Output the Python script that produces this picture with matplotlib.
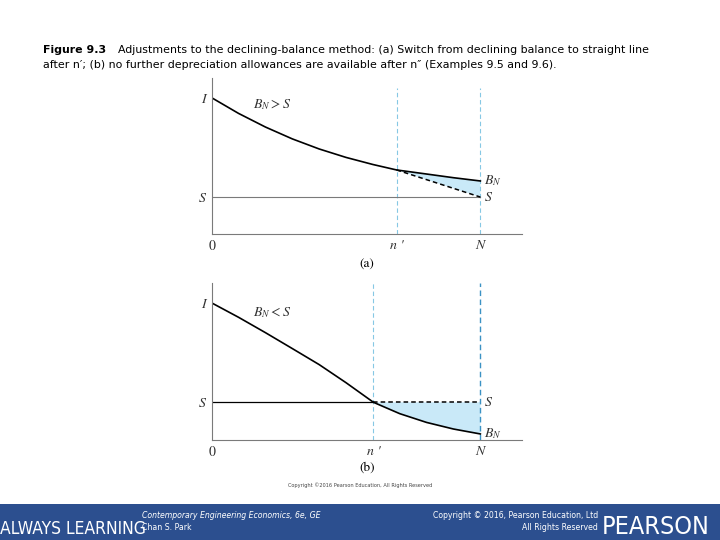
import matplotlib
matplotlib.use("Agg")
import matplotlib.pyplot as plt
from matplotlib.patches import Rectangle

plt.rcParams['mathtext.fontset'] = 'stix'

# --- data (book value as fraction of I, time in units of N/10) ---
N = 10
I_val = 1.0

# (a) B_N > S : switch to straight line after n'
a_nprime = 6.88
a_S = 0.271
a_x = [0, 1, 2, 3, 4, 5, 6, 6.88, 8, 9, 10]
a_bv = [1.0, 0.885, 0.785, 0.698, 0.624, 0.562, 0.510, 0.470, 0.440, 0.413, 0.389]

# (b) B_N < S : no more depreciation after n'
b_nprime = 6.02
b_S = 0.275
b_x = [0, 1, 2, 3, 4, 5, 6.02, 7, 8, 9, 10]
b_bv = [1.0, 0.895, 0.783, 0.667, 0.550, 0.418, 0.275, 0.192, 0.128, 0.080, 0.044]

x_ticks_a = [0, a_nprime, N]
x_ticks_b = [0, b_nprime, N]
x_tick_labels = ['0', "n '", 'N']

light_blue = '#86c8e4'
dark_blue = '#3b92c4'
fill_blue = '#c9e9f8'
axis_gray = '#7a7a7a'

fig = plt.figure(figsize=(7.2, 5.4), dpi=100)
fig.set_facecolor('white')


def setup_axes(ax, xticks, S):
    ax.set_xlim(0, 11.55)
    ax.set_ylim(0, 1.145)
    for s in ['top', 'right']:
        ax.spines[s].set_visible(False)
    for s in ['left', 'bottom']:
        ax.spines[s].set_color(axis_gray)
        ax.spines[s].set_linewidth(0.8)
    ax.set_xticks(xticks, x_tick_labels)
    ax.set_yticks([S, I_val], ['S', 'I'])
    ax.tick_params(length=0, pad=4, labelsize=10, colors='#333333')
    for t in ax.get_xticklabels() + ax.get_yticklabels():
        t.set_fontfamily('STIXGeneral')
        if t.get_text() != '0':
            t.set_fontstyle('italic')


# ---------------- panel (a) ----------------
ax1 = fig.add_axes([0.294, 0.5667, 0.431, 0.2889])
setup_axes(ax1, x_ticks_a, a_S)

ax1.vlines([a_nprime, N], 0, 1.07, colors=light_blue, linestyles=(0, (4, 2.5)), linewidth=0.8)
ax1.plot([0, N], [a_S, a_S], color=axis_gray, linewidth=0.8)

# shaded area between DB curve and straight-line switch
tail_x = [x for x in a_x if x >= a_nprime]
tail_y = [y for x, y in zip(a_x, a_bv) if x >= a_nprime]
ax1.fill(tail_x + [N], tail_y + [a_S], color=fill_blue, linewidth=0)
ax1.plot(a_x, a_bv, color='black', linewidth=1.2)
ax1.plot([a_nprime, N], [tail_y[0], a_S], color='black', linewidth=1.1, linestyle=(0, (3, 2)))

ax1.text(1.55, 0.92, '$B_N > S$', fontsize=10, color='#333333')
ax1.text(N + 0.12, a_bv[-1], '$B_N$', fontsize=10, color='#333333', va='center')
ax1.text(N + 0.12, a_S, '$S$', fontsize=10, color='#333333', va='center')
ax1.text(0.5, -0.2, '(a)', transform=ax1.transAxes, ha='center', va='center',
         fontsize=9.5, family='STIXGeneral')

# ---------------- panel (b) ----------------
ax2 = fig.add_axes([0.294, 0.1852, 0.431, 0.2907])
setup_axes(ax2, x_ticks_b, b_S)

ax2.vlines([b_nprime], 0, 1.145, colors=light_blue, linestyles=(0, (4, 2.5)), linewidth=0.8)
ax2.vlines([N], 0, 1.145, colors=dark_blue, linestyles=(0, (4, 2.5)), linewidth=1.0)

tail_x = [x for x in b_x if x >= b_nprime]
tail_y = [y for x, y in zip(b_x, b_bv) if x >= b_nprime]
ax2.fill(tail_x + [N, b_nprime], tail_y + [b_S, b_S], color=fill_blue, linewidth=0)
ax2.plot([0, b_nprime], [b_S, b_S], color='black', linewidth=0.9)
ax2.plot([b_nprime, N], [b_S, b_S], color='black', linewidth=1.1, linestyle=(0, (3, 2)))
ax2.plot(b_x, b_bv, color='black', linewidth=1.2)

ax2.text(1.55, 0.9, '$B_N < S$', fontsize=10, color='#333333')
ax2.text(N + 0.15, b_S, '$S$', fontsize=10, color='#333333', va='center')
ax2.text(N + 0.12, b_bv[-1], '$B_N$', fontsize=10, color='#333333', va='center')
ax2.text(0.5, -0.18, '(b)', transform=ax2.transAxes, ha='center', va='center',
         fontsize=9.5, family='STIXGeneral')

fig.text(0.5, 1 - 485 / 540, 'Copyright ©2016 Pearson Education, All Rights Reserved',
         ha='center', va='center', fontsize=3.6, color='#444444')

# ---------------- caption ----------------
fig.text(43 / 720, 1 - 50 / 540, 'Figure 9.3', fontsize=7.9, fontweight='bold', va='center')
fig.text(118 / 720, 1 - 50 / 540,
         'Adjustments to the declining-balance method: (a) Switch from declining balance to straight line',
         fontsize=7.9, va='center')
fig.text(43 / 720, 1 - 65 / 540,
         'after n′; (b) no further depreciation allowances are available after n″ (Examples 9.5 and 9.6).',
         fontsize=7.9, va='center')

# ---------------- footer banner ----------------
banner = '#2c4f8f'
fig.patches.append(Rectangle((0, 0), 1, 36 / 540, transform=fig.transFigure,
                             facecolor=banner, edgecolor='none'))
fig.text(0, 6 / 540, 'ALWAYS LEARNING', family='DejaVu Sans', fontstretch='condensed',
         fontweight='light', fontsize=12.5, color='white', va='baseline', ha='left')
fig.text(602 / 720, 6 / 540, 'PEARSON', family='DejaVu Sans', fontstretch='condensed',
         fontweight='light', fontsize=18, color='white', va='baseline', ha='left')
fig.text(142 / 720, 1 - 516 / 540, 'Contemporary Engineering Economics, 6e, GE',
         fontsize=5.6, style='italic', color='white', va='center')
fig.text(142 / 720, 1 - 527 / 540, 'Chan S. Park', fontsize=5.6, color='white', va='center')
fig.text(598 / 720, 1 - 516 / 540, 'Copyright © 2016, Pearson Education, Ltd',
         fontsize=5.6, color='white', va='center', ha='right')
fig.text(598 / 720, 1 - 527 / 540, 'All Rights Reserved',
         fontsize=5.6, color='white', va='center', ha='right')

fig.savefig('out.png', dpi=100)
